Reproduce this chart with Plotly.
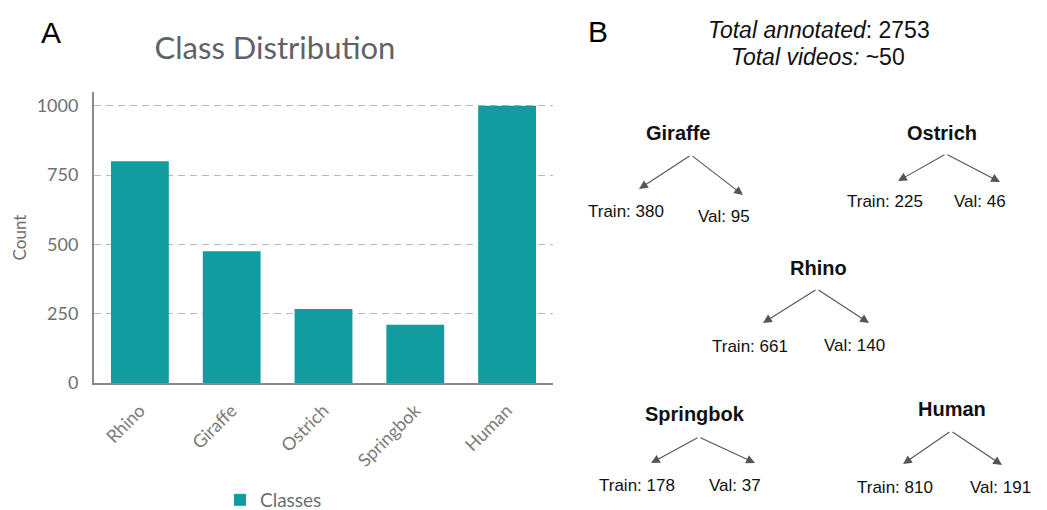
import plotly.graph_objects as go

# ---- data ----
classes = ["Rhino", "Giraffe", "Ostrich", "Springbok", "Human"]
counts = [800, 475, 267, 210, 1000]
y_ticks = [0, 250, 500, 750, 1000]

tree_classes = ["Giraffe", "Ostrich", "Rhino", "Springbok", "Human"]
train_counts = [380, 225, 661, 178, 810]
val_counts = [95, 46, 140, 37, 191]
total_annotated = 2753
total_videos = "~50"

# ---- layout positions for panel B (pixels in a 1047x510 canvas) ----
W, H = 1047, 510
node_pos = {  # name: (name_x, name_y, apex_x, apex_y, ltip_x, ltip_y, rtip_x, rtip_y, train_x, train_y, val_x, val_y)
    "Giraffe":   (678, 133, 691, 155, 639, 189, 743, 195, 626, 211, 724, 216),
    "Ostrich":   (942, 133, 946, 154, 898, 181, 1000, 182, 885, 202, 980, 202),
    "Rhino":     (818, 268, 817, 289, 763, 323, 869, 323, 750, 346, 854, 345),
    "Springbok": (695, 414, 699, 437, 651, 463, 755, 463, 637, 485, 735, 485),
    "Human":     (952, 409, 951, 431, 903, 464, 1002, 465, 895, 487, 1000, 487),
}

def px(x):
    return x / W

def py(y):
    return 1 - y / H

teal = "#119ca0"
grey_txt = "#6b6f73"

fig = go.Figure()
fig.add_trace(go.Bar(
    x=classes, y=counts, name="Classes",
    marker=dict(color=teal, line=dict(width=0)),
    width=0.63, showlegend=True,
))

annotations = []
# panel letters
annotations.append(dict(text="A", x=px(51), y=py(32), xref="paper", yref="paper",
                        showarrow=False, font=dict(family="Liberation Sans", size=30, color="black"),
                        xanchor="center", yanchor="middle"))
annotations.append(dict(text="B", x=px(598), y=py(31), xref="paper", yref="paper",
                        showarrow=False, font=dict(family="Liberation Sans", size=30, color="black"),
                        xanchor="center", yanchor="middle"))
# panel B header
annotations.append(dict(text=f"<i>Total annotated</i>: {total_annotated}", x=px(819), y=py(30),
                        xref="paper", yref="paper", showarrow=False,
                        font=dict(family="Liberation Sans", size=23, color="#111"),
                        xanchor="center", yanchor="middle"))
annotations.append(dict(text=f"<i>Total videos:</i> {total_videos}", x=px(818), y=py(57),
                        xref="paper", yref="paper", showarrow=False,
                        font=dict(family="Liberation Sans", size=23, color="#111"),
                        xanchor="center", yanchor="middle"))

for name, tr, va in zip(tree_classes, train_counts, val_counts):
    nx, ny, axp, ayp, lx, ly, rx, ry, tx, ty, vx, vy = node_pos[name]
    annotations.append(dict(text=f"<b>{name}</b>", x=px(nx), y=py(ny), xref="paper", yref="paper",
                            showarrow=False, font=dict(family="Liberation Sans", size=20, color="#111"),
                            xanchor="center", yanchor="middle"))
    for hx, hy in ((lx, ly), (rx, ry)):
        annotations.append(dict(text="", x=px(hx), y=py(hy), xref="paper", yref="paper",
                                showarrow=True, ax=axp - hx, ay=ayp - hy,
                                arrowhead=2, arrowsize=1.6, arrowwidth=1.1, arrowcolor="#555",
                                standoff=0, startstandoff=0))
    annotations.append(dict(text=f"Train: {tr}", x=px(tx), y=py(ty), xref="paper", yref="paper",
                            showarrow=False, font=dict(family="Liberation Sans", size=17, color="#111"),
                            xanchor="center", yanchor="middle"))
    annotations.append(dict(text=f"Val: {va}", x=px(vx), y=py(vy), xref="paper", yref="paper",
                            showarrow=False, font=dict(family="Liberation Sans", size=17, color="#111"),
                            xanchor="center", yanchor="middle"))

fig.update_layout(
    width=W, height=H,
    margin=dict(l=0, r=0, t=0, b=0, autoexpand=False),
    paper_bgcolor="white", plot_bgcolor="white",
    font=dict(family="Lato", color=grey_txt),
    title=dict(text="Class Distribution", x=px(275), y=py(48), xanchor="center", yanchor="middle",
               font=dict(family="Lato", size=31, color="#5f6368")),
    xaxis=dict(domain=[px(94), px(553)], range=[-0.5, 4.5], showgrid=False,
               showline=True, linecolor="#8a8a8a", linewidth=2,
               tickangle=-45, tickfont=dict(family="Lato", size=18, color="#7a7a7a"),
               ticklabelstandoff=8, automargin=False),
    yaxis=dict(domain=[py(383), py(92)], range=[0, 1050], tickvals=y_ticks,
               showgrid=True, gridcolor="#b8b8b8", griddash="7px,5px", gridwidth=1,
               showline=True, linecolor="#8a8a8a", linewidth=2, zeroline=False,
               tickfont=dict(family="Lato", size=18, color="#6f6f6f"),
               ticklabelstandoff=10, automargin=False,
               title=dict(text="Count", standoff=6, font=dict(family="Lato", size=17, color="#6f6f6f"))),
    legend=dict(orientation="h", x=px(220), y=py(500), xanchor="left", yanchor="middle",
                font=dict(family="Lato", size=19, color="#6b6f73"), bgcolor="rgba(0,0,0,0)"),
    annotations=annotations,
    bargap=0.37,
)

fig.write_html("out.html", config={"displayModeBar": False},
               post_script="document.body.style.margin='0px';")
